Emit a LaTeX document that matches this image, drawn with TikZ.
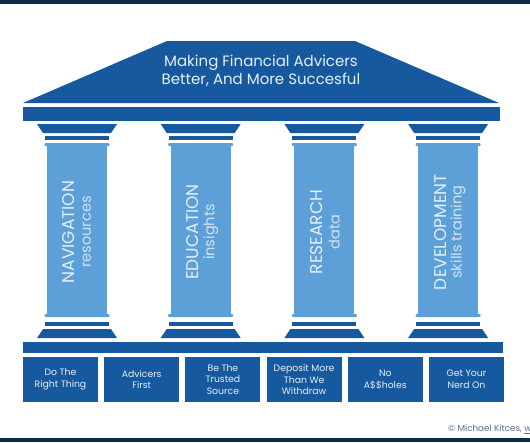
\documentclass[tikz,border=0pt]{standalone}
\usepackage{fontspec}
\setmainfont{Poppins}
\definecolor{navy}{HTML}{0F2B4C}
\definecolor{dblue}{HTML}{17599E}
\definecolor{lblue}{HTML}{5DA0D8}
\definecolor{ltxt}{HTML}{E6EFF8}
\definecolor{ctxt}{HTML}{5B6F8C}
\tikzset{
  mainword/.style={rotate=90, text=ltxt, inner sep=0pt, font=\fontsize{17}{20}\selectfont},
  subword/.style={rotate=90, text=ltxt!85!lblue, inner sep=0pt, font=\fontsize{14.5}{18}\selectfont},
  valuebox/.style={fill=dblue, draw=none, minimum width=75pt, minimum height=45pt, inner sep=0pt,
    text=ltxt, align=center, font=\fontsize{9.3}{11.7}\selectfont},
}
\newcommand{\pillar}[4]{%
  % #1 center x, #2 name, #3 main word, #4 sub word
  \fill[dblue] (#1-40,124) -- (#1+40,124) -- (#1+34,133) -- (#1-34,133) -- cycle;
  \fill[dblue] (#1-32,136) rectangle (#1+32,140);
  \fill[lblue, rounded corners=1pt] (#1-32.5,143) rectangle (#1+32.5,146);
  \fill[lblue] (#1-30,144) rectangle (#1+30,316);
  \fill[lblue, rounded corners=1pt] (#1-32.5,314) rectangle (#1+32.5,317);
  \fill[dblue] (#1-32,322) rectangle (#1+32,326);
  \fill[dblue] (#1-34,329) -- (#1+34,329) -- (#1+40,338) -- (#1-40,338) -- cycle;
  \node[mainword] (#2) at (#1-8,232) {#3};
  \node[subword] (#2s) at (#1+10,232) {#4};
}
\begin{document}
\begin{tikzpicture}[x=1pt, y=-1pt]
\useasboundingbox (0,0) rectangle (530,442);
\fill[white] (0,0) rectangle (530,442);
% top and bottom bands
\fill[navy] (0,0) rectangle (530,4);
\fill[navy] (0,437.5) rectangle (530,442);
% roof
\fill[dblue] (167,41) -- (355,41) -- (499,103) -- (23,103) -- cycle;
\node[text=ltxt, align=center, font=\fontsize{15}{18.5}\selectfont] (roof) at (261,71) {Making Financial Advicers\\Better, And More Succesful};
% beam
\fill[dblue] (23,107) rectangle (500,121);
% pillars
\pillar{77}{p1}{NAVIGATION}{resources}
\pillar{200.7}{p2}{EDUCATION}{insights}
\pillar{324.4}{p3}{RESEARCH}{data}
\pillar{448.1}{p4}{DEVELOPMENT}{skills training}
% base bar
\fill[dblue] (23,342) rectangle (503,353);
% value boxes
\node[valuebox] (b1) at (60.5,379.5) {Do The\\Right Thing};
\node[valuebox] (b2) at (141.7,379.5) {Advicers\\First};
\node[valuebox] (b3) at (222.9,379.5) {Be The\\Trusted\\Source};
\node[valuebox] (b4) at (304.1,379.5) {Deposit More\\Than We\\Withdraw};
\node[valuebox] (b5) at (385.3,379.5) {No\\A\$\$holes};
\node[valuebox] (b6) at (466.5,379.5) {Get Your\\Nerd On};
% copyright
\node[anchor=west, text=ctxt, inner sep=0pt, font=\fontsize{8.8}{10}\selectfont] (copy) at (448,429) {© Michael Kitces, \underline{w}};
\end{tikzpicture}
\end{document}
